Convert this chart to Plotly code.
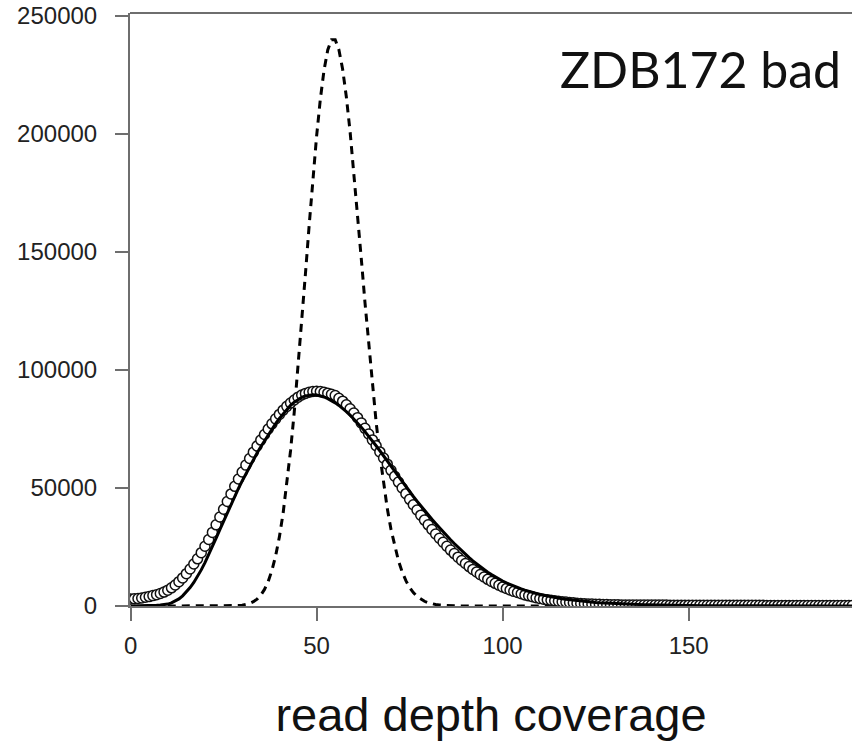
import plotly.graph_objects as go

# ---- data ----
depth_obs = list(range(0, 195))
count_obs = [
    3000, 3100, 3200, 3400, 3700, 4000, 4400, 4800, 5300, 5900,
    6700, 7700, 8900, 10300, 11900, 13700, 15700, 17800, 20000, 22600,
    25300, 28200, 31200, 34400, 37700, 41000, 44300, 47500, 50700, 53800,
    56800, 59700, 62500, 65200, 67800, 70300, 72700, 75000, 77200, 79300,
    81200, 83000, 84600, 86000, 87300, 88500, 89400, 90100, 90600, 90900,
    91000, 90900, 90600, 90200, 89700, 89200, 88000, 86800, 85300, 83600,
    81800, 79800, 77600, 75300, 72900, 70400, 67900, 65300, 62700, 60100,
    57500, 55000, 52500, 50000, 47600, 45200, 42900, 40700, 38500, 36400,
    34400, 32400, 30500, 28700, 27000, 25300, 23700, 22200, 20700, 19300,
    18000, 16700, 15500, 14400, 13300, 12300, 11300, 10400, 9600, 8800,
    8100, 7400, 6800, 6200, 5700, 5200, 4700, 4300, 3900, 3500,
    3200, 2900, 2600, 2400, 2200, 2000, 1800, 1650, 1500, 1350,
    1200, 1100, 1000, 900, 820, 750, 690, 640, 590, 550,
    510, 490, 470, 460, 450, 440, 430, 420, 410, 400,
    395, 390, 385, 380, 375, 370, 365, 360, 355, 350,
    345, 340, 335, 330, 325, 320, 315, 310, 305, 300,
    300, 295, 290, 290, 285, 280, 280, 275, 270, 270,
    265, 260, 260, 255, 250, 250, 245, 240, 240, 235,
    230, 230, 225, 220, 220, 215, 210, 210, 205, 200,
    200, 195, 190, 190, 185,
]

depth_fit = list(range(0, 195))
count_fit = [
    0, 5, 15, 35, 70, 120, 190, 290, 420, 590,
    800, 1300, 2000, 3000, 4300, 5900, 7800, 10000, 12500, 15300,
    18400, 21700, 25200, 28800, 32400, 36000, 39600, 43100, 46500, 49800,
    53000, 56100, 59100, 62000, 64800, 67500, 70100, 72600, 75000, 77300,
    79500, 81500, 83300, 85000, 86400, 87500, 88400, 89000, 89400, 89500,
    89400, 89100, 88600, 87900, 87100, 86100, 85000, 83800, 82400, 80900,
    79300, 77600, 75800, 73900, 72000, 70000, 67900, 65800, 63600, 61400,
    59200, 57000, 54800, 52600, 50500, 48400, 46400, 44400, 42400, 40500,
    38600, 36800, 35000, 33200, 31500, 29800, 28100, 26500, 24900, 23400,
    21900, 20500, 19100, 17800, 16600, 15400, 14300, 13300, 12300, 11400,
    10600, 9800, 9100, 8400, 7800, 7200, 6700, 6200, 5700, 5300,
    4900, 4550, 4200, 3900, 3600, 3350, 3100, 2850, 2650, 2450,
    2250, 2100, 1950, 1800, 1650, 1520, 1400, 1300, 1200, 1100,
    1020, 940, 870, 800, 740, 680, 630, 580, 530, 490,
    450, 420, 390, 360, 330, 300, 280, 260, 240, 220,
    200, 185, 170, 155, 145, 135, 125, 115, 105, 100,
    95, 90, 85, 80, 75, 70, 65, 60, 56, 52,
    48, 45, 42, 39, 36, 33, 31, 29, 27, 25,
    23, 21, 19, 18, 17, 16, 15, 14, 13, 12,
    11, 10, 9, 9, 8,
]

depth_poisson = list(range(10, 126))
count_poisson = [
    0, 0, 0, 0, 0, 0, 0, 0, 0, 0,
    0, 0, 0, 0, 0, 12, 25, 52, 102, 194,
    356, 631, 1085, 1808, 2925, 4596, 7022, 10438, 15108, 21306,
    29296, 39300, 51464, 65826, 82282, 100567, 120243, 140710, 161230, 180972,
    199069, 214682, 227068, 235636, 240000, 240000, 235714, 227444, 215680, 201058,
    184303, 166175, 147413, 128694, 110596, 93581, 77984, 64017, 51778, 41272,
    32428, 25120, 19189, 14457, 10745, 7880, 5703, 4074, 2873, 2000,
    1375, 934, 626, 415, 272, 176, 113, 71, 45, 28,
    17, 10, 6, 3, 2, 1, 0, 0, 0, 0,
    0, 0, 0, 0, 0, 0, 0, 0, 0, 0,
    0, 0, 0, 0, 0, 0, 0, 0, 0, 0,
    0, 0, 0, 0, 0, 0,
]

x_ticks = [0, 50, 100, 150]
y_ticks = [0, 50000, 100000, 150000, 200000, 250000]
y_tick_text = ["0", "50000", "100000", "150000", "200000", "250000"]
panel_label = "ZDB172 bad"
x_title = "read depth coverage"

# ---- figure ----
fig = go.Figure()

fig.add_trace(go.Scatter(
    x=depth_poisson, y=count_poisson, mode="lines",
    line=dict(color="black", width=3, dash="8px,6px"),
    showlegend=False,
))
fig.add_trace(go.Scatter(
    x=depth_obs, y=count_obs, mode="markers",
    marker=dict(symbol="circle", size=10, color="white",
                line=dict(color="#111111", width=1.5)),
    showlegend=False,
))
fig.add_trace(go.Scatter(
    x=depth_fit, y=count_fit, mode="lines",
    line=dict(color="black", width=3),
    showlegend=False,
))

axis_grey = "#6e6e6e"
fig.update_layout(
    width=852, height=741,
    margin=dict(l=130, r=0, t=13, b=135, autoexpand=False),
    paper_bgcolor="white", plot_bgcolor="white",
    font=dict(family="Liberation Sans, Arial, sans-serif", color="#222222"),
    xaxis=dict(
        range=[-0.15, 193.9], tickvals=x_ticks,
        showgrid=False, zeroline=False,
        showline=True, linecolor=axis_grey, linewidth=2,
        ticks="outside", ticklen=13, tickwidth=1.5, tickcolor=axis_grey,
        tickfont=dict(size=24, color="#222222"),
        ticklabelstandoff=4,
        title=dict(text=x_title, font=dict(size=47, color="#111111"), standoff=42),
        automargin=False,
    ),
    yaxis=dict(
        range=[0, 251300], tickvals=y_ticks, ticktext=y_tick_text,
        showgrid=False, zeroline=False,
        showline=True, linecolor=axis_grey, linewidth=2, mirror=False,
        ticks="outside", ticklen=13, tickwidth=1.5, tickcolor=axis_grey,
        tickfont=dict(size=24, color="#222222"),
        ticklabelstandoff=13,
        automargin=False,
    ),
    shapes=[dict(type="line", xref="paper", yref="paper", x0=0, x1=1, y0=1, y1=1,
                 line=dict(color=axis_grey, width=2))],
    annotations=[dict(
        text=panel_label, xref="paper", yref="paper", x=0.9875, y=0.905,
        xanchor="right", yanchor="middle", showarrow=False,
        font=dict(family="Lato, sans-serif", size=50, color="#111111"),
    )],
)

fig.write_html("out.html")
